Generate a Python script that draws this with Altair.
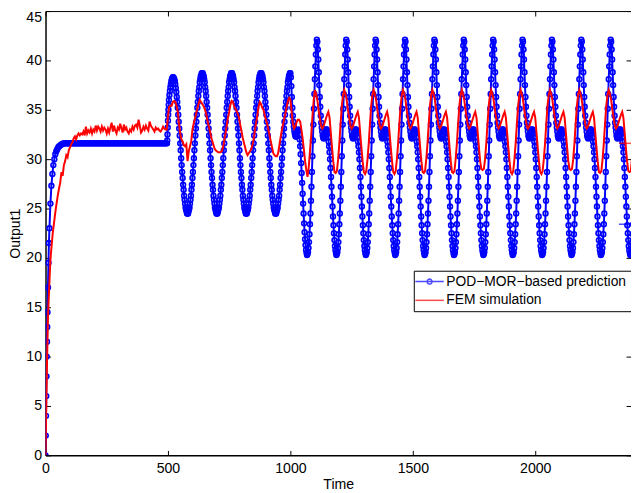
import altair as alt
import pandas as pd

# ---------------- data ----------------
POD = "POD\u2212MOR\u2212based prediction"
FEM = "FEM simulation"

x_tick_values = [0, 500, 1000, 1500, 2000]
y_tick_values = [0, 5, 10, 15, 20, 25, 30, 35, 40, 45]

# POD-MOR prediction (blue, circle markers)
pod_t_start = [0, 1, 2, 3, 4, 5, 6, 7, 8, 10, 12, 14, 16, 20, 24, 28, 32, 36, 40, 44, 48, 52, 56, 60, 64, 68]
pod_v_start = [0.0, 2.0, 4.0, 6.0, 8.0, 10.0, 11.5, 13.0, 14.5, 17.0, 19.5, 21.5, 23.0, 25.5, 27.3, 28.5,
               29.4, 30.0, 30.5, 30.8, 31.0, 31.2, 31.3, 31.4, 31.5, 31.5]
# t = 72 ... 496, step 4 (flat part)
pod_v_flat = [31.6, 31.6, 31.6, 31.6, 31.6, 31.6, 31.6, 31.6, 31.6, 31.6, 31.6, 31.6, 31.6, 31.6, 31.6, 31.6,
              31.6, 31.6, 31.6, 31.6, 31.6, 31.6, 31.6, 31.6, 31.6, 31.6, 31.6, 31.6, 31.6, 31.6, 31.6, 31.6,
              31.6, 31.6, 31.6, 31.6, 31.6, 31.6, 31.6, 31.6, 31.6, 31.6, 31.6, 31.6, 31.6, 31.6, 31.6, 31.6,
              31.6, 31.6, 31.6, 31.6, 31.6, 31.6, 31.6, 31.6, 31.6, 31.6, 31.6, 31.6, 31.6, 31.6, 31.6, 31.6,
              31.6, 31.6, 31.6, 31.6, 31.6, 31.6, 31.6, 31.6, 31.6, 31.6, 31.6, 31.6, 31.6, 31.6, 31.6, 31.6,
              31.6, 31.6, 31.6, 31.6, 31.6, 31.6, 31.6, 31.6, 31.6, 31.6, 31.6, 31.6, 31.6, 31.6, 31.6, 31.6,
              31.6, 31.6, 31.6, 31.6, 31.6, 31.6, 31.6, 31.6, 31.6, 31.6, 31.6]
pod_t_jump = [497, 498, 499, 500, 501, 502, 503]
pod_v_jump = [31.9, 32.5, 33.2, 33.9, 34.5, 35.0, 35.5]
# t = 504 ... 998, step 2
pod_v_osc1 = [
    36.0, 36.5, 36.9, 37.3, 37.6, 37.9, 38.1, 38.2, 38.3, 38.3, 38.2, 38.1, 37.9, 37.6, 37.2, 36.8, 36.3, 35.8,
    35.2, 34.5, 33.8, 33.1, 32.4, 31.6, 30.9, 30.1, 29.4, 28.7, 28.1, 27.4, 26.9, 26.3, 25.9, 25.5, 25.1, 24.9, 24.7, 24.5,
    24.5, 24.5, 24.7, 24.9, 25.1, 25.5, 25.9, 26.3, 26.9, 27.4, 28.1, 28.7, 29.4, 30.1, 30.9, 31.6, 32.4, 33.1, 33.8, 34.5,
    35.2, 35.8, 36.4, 36.9, 37.3, 37.8, 38.1, 38.4, 38.5, 38.7, 38.7, 38.7, 38.5, 38.4, 38.1, 37.8, 37.3, 36.9, 36.4, 35.8,
    35.2, 34.5, 33.8, 33.1, 32.4, 31.6, 30.9, 30.1, 29.4, 28.7, 28.1, 27.4, 26.9, 26.3, 25.9, 25.5, 25.1, 24.9, 24.7, 24.5,
    24.5, 24.5, 24.7, 24.9, 25.1, 25.5, 25.9, 26.3, 26.9, 27.4, 28.1, 28.7, 29.4, 30.1, 30.9, 31.6, 32.4, 33.1, 33.8, 34.5,
    35.2, 35.8, 36.4, 36.9, 37.3, 37.8, 38.1, 38.4, 38.5, 38.7, 38.7, 38.7, 38.5, 38.4, 38.1, 37.8, 37.3, 36.9, 36.4, 35.8,
    35.2, 34.5, 33.8, 33.1, 32.4, 31.6, 30.9, 30.1, 29.4, 28.7, 28.1, 27.4, 26.9, 26.3, 25.9, 25.5, 25.1, 24.9, 24.7, 24.5,
    24.5, 24.5, 24.7, 24.9, 25.1, 25.5, 25.9, 26.3, 26.9, 27.4, 28.1, 28.7, 29.4, 30.1, 30.9, 31.6, 32.4, 33.1, 33.8, 34.5,
    35.2, 35.8, 36.4, 36.9, 37.3, 37.8, 38.1, 38.4, 38.5, 38.7, 38.7, 38.7, 38.5, 38.4, 38.1, 37.8, 37.3, 36.9, 36.4, 35.8,
    35.2, 34.5, 33.8, 33.1, 32.4, 31.6, 30.9, 30.1, 29.4, 28.7, 28.1, 27.4, 26.9, 26.3, 25.9, 25.5, 25.1, 24.9, 24.7, 24.5,
    24.5, 24.5, 24.7, 24.9, 25.1, 25.5, 25.9, 26.3, 26.9, 27.4, 28.1, 28.7, 29.4, 30.1, 30.9, 31.6, 32.4, 33.1, 33.8, 34.5,
    35.2, 35.8, 36.4, 36.9, 37.3, 37.8, 38.1, 38.4, 38.5, 38.7]
# t = 1000 ... 1106, step 2
pod_v_trans = [38.7, 38.3, 37.4, 36.3, 35.2, 34.4, 33.8, 33.3, 32.9, 32.6, 32.4, 32.3, 32.3, 32.5, 32.7, 32.9,
               33.0, 32.9, 32.5, 32.0, 31.3, 30.5, 29.6, 28.6, 27.6, 26.5, 25.5, 24.5, 23.5, 22.6, 21.9, 21.3,
               20.8, 20.5, 20.3, 20.4, 20.6, 21.0, 21.6, 22.4, 23.4, 24.5, 25.8, 27.2, 28.7, 30.3, 31.9, 33.5,
               35.1, 36.6, 38.1, 39.4, 40.6, 41.5]
# t = 1108 ... 2400, step 2 (one row per period)
pod_v_osc2 = [
    [42.1, 41.9, 41.1, 40.1, 38.8, 37.5, 36.3, 35.3, 34.4, 33.7, 33.2, 32.8, 32.4, 32.2, 32.1, 32.2, 32.4, 32.7, 32.9, 33.0,
     33.0, 32.8, 32.6, 32.2, 31.8, 31.3, 30.7, 30.0, 29.1, 28.2, 27.2, 26.2, 25.2, 24.2, 23.3, 22.5, 21.8, 21.2, 20.8, 20.5,
     20.3, 20.4, 20.6, 21.0, 21.6, 22.4, 23.4, 24.5, 25.8, 27.2, 28.7, 30.3, 31.9, 33.5, 35.1, 36.6, 38.1, 39.4, 40.6, 41.5],
    [42.1, 41.9, 41.1, 40.1, 38.8, 37.5, 36.3, 35.3, 34.4, 33.7, 33.2, 32.8, 32.4, 32.2, 32.1, 32.2, 32.4, 32.7, 32.9, 33.0,
     33.0, 32.8, 32.6, 32.2, 31.8, 31.3, 30.7, 30.0, 29.1, 28.2, 27.2, 26.2, 25.2, 24.2, 23.3, 22.5, 21.8, 21.2, 20.8, 20.5,
     20.3, 20.4, 20.6, 21.0, 21.6, 22.4, 23.4, 24.5, 25.8, 27.2, 28.7, 30.3, 31.9, 33.5, 35.1, 36.6, 38.1, 39.4, 40.6, 41.5],
    [42.1, 41.9, 41.1, 40.1, 38.8, 37.5, 36.3, 35.3, 34.4, 33.7, 33.2, 32.8, 32.4, 32.2, 32.1, 32.2, 32.4, 32.7, 32.9, 33.0,
     33.0, 32.8, 32.6, 32.2, 31.8, 31.3, 30.7, 30.0, 29.1, 28.2, 27.2, 26.2, 25.2, 24.2, 23.3, 22.5, 21.8, 21.2, 20.8, 20.5,
     20.3, 20.4, 20.6, 21.0, 21.6, 22.4, 23.4, 24.5, 25.8, 27.2, 28.7, 30.3, 31.9, 33.5, 35.1, 36.6, 38.1, 39.4, 40.6, 41.5],
    [42.1, 41.9, 41.1, 40.1, 38.8, 37.5, 36.3, 35.3, 34.4, 33.7, 33.2, 32.8, 32.4, 32.2, 32.1, 32.2, 32.4, 32.7, 32.9, 33.0,
     33.0, 32.8, 32.6, 32.2, 31.8, 31.3, 30.7, 30.0, 29.1, 28.2, 27.2, 26.2, 25.2, 24.2, 23.3, 22.5, 21.8, 21.2, 20.8, 20.5,
     20.3, 20.4, 20.6, 21.0, 21.6, 22.4, 23.4, 24.5, 25.8, 27.2, 28.7, 30.3, 31.9, 33.5, 35.1, 36.6, 38.1, 39.4, 40.6, 41.5],
    [42.1, 41.9, 41.1, 40.1, 38.8, 37.5, 36.3, 35.3, 34.4, 33.7, 33.2, 32.8, 32.4, 32.2, 32.1, 32.2, 32.4, 32.7, 32.9, 33.0,
     33.0, 32.8, 32.6, 32.2, 31.8, 31.3, 30.7, 30.0, 29.1, 28.2, 27.2, 26.2, 25.2, 24.2, 23.3, 22.5, 21.8, 21.2, 20.8, 20.5,
     20.3, 20.4, 20.6, 21.0, 21.6, 22.4, 23.4, 24.5, 25.8, 27.2, 28.7, 30.3, 31.9, 33.5, 35.1, 36.6, 38.1, 39.4, 40.6, 41.5],
    [42.1, 41.9, 41.1, 40.1, 38.8, 37.5, 36.3, 35.3, 34.4, 33.7, 33.2, 32.8, 32.4, 32.2, 32.1, 32.2, 32.4, 32.7, 32.9, 33.0,
     33.0, 32.8, 32.6, 32.2, 31.8, 31.3, 30.7, 30.0, 29.1, 28.2, 27.2, 26.2, 25.2, 24.2, 23.3, 22.5, 21.8, 21.2, 20.8, 20.5,
     20.3, 20.4, 20.6, 21.0, 21.6, 22.4, 23.4, 24.5, 25.8, 27.2, 28.7, 30.3, 31.9, 33.5, 35.1, 36.6, 38.1, 39.4, 40.6, 41.5],
    [42.1, 41.9, 41.1, 40.1, 38.8, 37.5, 36.3, 35.3, 34.4, 33.7, 33.2, 32.8, 32.4, 32.2, 32.1, 32.2, 32.4, 32.7, 32.9, 33.0,
     33.0, 32.8, 32.6, 32.2, 31.8, 31.3, 30.7, 30.0, 29.1, 28.2, 27.2, 26.2, 25.2, 24.2, 23.3, 22.5, 21.8, 21.2, 20.8, 20.5,
     20.3, 20.4, 20.6, 21.0, 21.6, 22.4, 23.4, 24.5, 25.8, 27.2, 28.7, 30.3, 31.9, 33.5, 35.1, 36.6, 38.1, 39.4, 40.6, 41.5],
    [42.1, 41.9, 41.1, 40.1, 38.8, 37.5, 36.3, 35.3, 34.4, 33.7, 33.2, 32.8, 32.4, 32.2, 32.1, 32.2, 32.4, 32.7, 32.9, 33.0,
     33.0, 32.8, 32.6, 32.2, 31.8, 31.3, 30.7, 30.0, 29.1, 28.2, 27.2, 26.2, 25.2, 24.2, 23.3, 22.5, 21.8, 21.2, 20.8, 20.5,
     20.3, 20.4, 20.6, 21.0, 21.6, 22.4, 23.4, 24.5, 25.8, 27.2, 28.7, 30.3, 31.9, 33.5, 35.1, 36.6, 38.1, 39.4, 40.6, 41.5],
    [42.1, 41.9, 41.1, 40.1, 38.8, 37.5, 36.3, 35.3, 34.4, 33.7, 33.2, 32.8, 32.4, 32.2, 32.1, 32.2, 32.4, 32.7, 32.9, 33.0,
     33.0, 32.8, 32.6, 32.2, 31.8, 31.3, 30.7, 30.0, 29.1, 28.2, 27.2, 26.2, 25.2, 24.2, 23.3, 22.5, 21.8, 21.2, 20.8, 20.5,
     20.3, 20.4, 20.6, 21.0, 21.6, 22.4, 23.4, 24.5, 25.8, 27.2, 28.7, 30.3, 31.9, 33.5, 35.1, 36.6, 38.1, 39.4, 40.6, 41.5],
    [42.1, 41.9, 41.1, 40.1, 38.8, 37.5, 36.3, 35.3, 34.4, 33.7, 33.2, 32.8, 32.4, 32.2, 32.1, 32.2, 32.4, 32.7, 32.9, 33.0,
     33.0, 32.8, 32.6, 32.2, 31.8, 31.3, 30.7, 30.0, 29.1, 28.2, 27.2, 26.2, 25.2, 24.2, 23.3, 22.5, 21.8, 21.2, 20.8, 20.5,
     20.3, 20.4, 20.6, 21.0, 21.6, 22.4, 23.4, 24.5, 25.8, 27.2, 28.7, 30.3, 31.9, 33.5, 35.1, 36.6, 38.1, 39.4, 40.6, 41.5],
    [42.1, 41.9, 41.1, 40.1, 38.8, 37.5, 36.3, 35.3, 34.4, 33.7, 33.2, 32.8, 32.4, 32.2, 32.1, 32.2, 32.4, 32.7, 32.9, 33.0,
     33.0, 32.8, 32.6, 32.2, 31.8, 31.3, 30.7, 30.0, 29.1, 28.2, 27.2, 26.2, 25.2, 24.2, 23.3, 22.5, 21.8, 21.2, 20.8, 20.5,
     20.3, 20.4, 20.6, 21.0, 21.6, 22.4, 23.4],
]

# FEM simulation (red line), t = 0 ... 2400, step 5
fem_v_start = [0.0, 8.0, 14.0, 17.0, 19.8, 21.3, 22.6, 23.6, 24.6, 25.5, 26.3, 27.0, 27.6, 28.7, 28.3, 29.4,
               29.8, 30.4, 30.2, 30.9]
fem_v_noise = [31.2, 31.5, 31.7, 32.1, 32.3, 32.0, 32.4, 32.6, 32.4, 32.6, 32.5, 32.8, 32.4, 33.3, 32.6, 32.9,
               32.7, 33.1, 32.6, 33.0, 32.8, 33.4, 32.9, 33.3, 33.1, 32.8, 33.3, 32.9, 33.2, 33.0, 32.6, 33.1,
               32.7, 33.2, 33.7, 32.8, 33.4, 32.9, 32.6, 33.2, 33.0, 33.6, 33.1, 32.7, 33.5, 33.0, 33.2, 32.8,
               32.6, 33.0, 32.8, 33.3, 33.0, 33.4, 33.5, 33.2, 34.0, 33.4, 32.7, 32.9, 33.3, 33.0, 33.4, 33.1,
               32.9, 33.8, 33.4, 33.2, 33.0, 32.8, 33.2, 33.0, 33.1, 32.9, 32.8, 33.0, 33.3, 33.1, 33.0, 33.0]
fem_v_osc1 = [34.3, 35.3, 35.4, 35.4, 35.8, 35.9, 35.8, 35.4, 34.8, 33.6, 32.6, 32.0, 31.8, 31.4, 31.3, 31.5,
              29.8, 30.8, 31.3, 31.8, 33.0, 33.6, 34.1, 34.6, 35.1, 35.6, 36.0, 35.8, 35.6, 35.4, 35.1, 34.7,
              34.1, 33.5, 33.0, 32.4, 31.9, 31.5, 31.1, 30.9, 30.8, 30.7, 30.7, 30.7, 30.8, 31.2, 31.9, 32.6,
              33.4, 34.2, 34.8, 35.5, 35.9, 35.8, 35.4, 35.1, 34.9, 34.6, 34.2, 33.5, 32.9, 32.2, 31.7, 31.2,
              30.7, 30.4, 30.6, 30.8, 31.0, 31.4, 32.0, 32.9, 33.7, 34.4, 35.3, 35.8, 35.6, 35.2, 35.0, 34.5,
              34.0, 33.6, 33.0, 32.4, 31.8, 31.2, 30.6, 30.4, 30.3, 30.3, 30.6, 31.4, 32.2, 32.9, 33.5, 34.1,
              34.7, 35.3, 35.9, 36.2]
fem_v_trans = [36.0, 34.8, 33.6, 33.1, 33.3, 33.7, 34.0, 34.0, 33.8, 33.0, 32.1, 31.0, 29.8, 28.9, 28.2, 29.2,
               30.8, 32.4, 34.3, 35.9]
fem_v_osc2 = [
    [37.0, 36.6, 36.0, 35.0, 34.2, 33.4, 33.1, 33.3, 33.7, 34.1, 34.5, 34.8, 34.2, 32.7, 31.2, 29.8, 28.7, 28.6, 28.8, 30.0, 31.6, 33.6, 35.4, 36.5],
    [37.0, 36.6, 36.0, 35.0, 34.2, 33.4, 33.1, 33.3, 33.7, 34.1, 34.5, 34.8, 34.2, 32.7, 31.2, 29.8, 28.7, 28.5, 28.8, 30.0, 31.6, 33.6, 35.4, 36.5],
    [37.0, 36.6, 36.0, 35.0, 34.2, 33.4, 33.1, 33.3, 33.7, 34.1, 34.5, 34.8, 34.2, 32.7, 31.2, 29.8, 28.7, 28.5, 28.8, 30.0, 31.6, 33.6, 35.4, 36.5],
    [37.0, 36.6, 36.0, 35.0, 34.2, 33.4, 33.1, 33.3, 33.7, 34.1, 34.5, 34.8, 34.2, 32.7, 31.2, 29.8, 28.7, 28.6, 28.8, 30.0, 31.6, 33.6, 35.4, 36.5],
    [37.0, 36.6, 36.0, 35.0, 34.2, 33.4, 33.1, 33.3, 33.7, 34.1, 34.5, 34.8, 34.2, 32.7, 31.2, 29.8, 28.7, 28.6, 28.8, 30.0, 31.6, 33.6, 35.4, 36.5],
    [37.0, 36.6, 36.0, 35.0, 34.2, 33.4, 33.1, 33.3, 33.7, 34.1, 34.5, 34.8, 34.2, 32.7, 31.2, 29.8, 29.0, 28.9, 29.0, 30.0, 31.6, 33.6, 35.4, 36.5],
    [37.0, 36.6, 36.0, 35.0, 34.2, 33.4, 33.1, 33.3, 33.7, 34.1, 34.5, 34.8, 34.2, 32.7, 31.2, 29.8, 28.7, 28.5, 28.8, 30.0, 31.6, 33.6, 35.4, 36.5],
    [37.0, 36.6, 36.0, 35.0, 34.2, 33.4, 33.1, 33.3, 33.7, 34.1, 34.5, 34.8, 34.2, 32.7, 31.2, 29.8, 28.7, 28.5, 28.8, 30.0, 31.6, 33.6, 35.4, 36.5],
    [37.0, 36.6, 36.0, 35.0, 34.2, 33.4, 33.1, 33.3, 33.7, 34.1, 34.5, 34.8, 34.2, 32.7, 31.2, 29.8, 29.0, 28.9, 29.0, 30.0, 31.6, 33.6, 35.4, 36.5],
    [37.0, 36.6, 36.0, 35.0, 34.2, 33.4, 33.1, 33.3, 33.7, 34.1, 34.5, 34.8, 34.2, 32.7, 31.2, 29.8, 28.7, 28.6, 28.8, 30.0, 31.6, 33.6, 35.4, 36.5],
    [37.0, 36.6, 36.0, 35.0, 34.2, 33.4, 33.1, 33.3, 33.7, 34.1, 34.5, 34.8, 34.2, 32.7, 31.2, 29.8, 28.8, 28.7, 28.8, 30.0, 31.6],
]

# ---------------- assemble tables ----------------
pod_t = pod_t_start + list(range(72, 497, 4)) + pod_t_jump + list(range(504, 2401, 2))
pod_v = pod_v_start + pod_v_flat + pod_v_jump + pod_v_osc1 + pod_v_trans + [v for row in pod_v_osc2 for v in row]
assert len(pod_t) == len(pod_v), (len(pod_t), len(pod_v), len(pod_v_osc1), len(pod_v_trans))

fem_t = list(range(0, 2401, 5))
fem_v = fem_v_start + fem_v_noise + fem_v_osc1 + fem_v_trans + [v for row in fem_v_osc2 for v in row]
assert len(fem_t) == len(fem_v), (len(fem_t), len(fem_v))

pod_df = pd.DataFrame({"Time": pod_t, "Output1": pod_v, "series": POD})
fem_df = pd.DataFrame({"Time": fem_t, "Output1": fem_v, "series": FEM})
key_df = pd.concat([pod_df.tail(1), fem_df.tail(1)], ignore_index=True)

# ---------------- styling ----------------
FONT = "Liberation Sans"
FS = 14.3
W, H = 593, 450
BLUE, RED = "#0000ff", "#ff0000"

xs = alt.Scale(domain=[0, 2391], nice=False, zero=False)
ys = alt.Scale(domain=[0, 45], nice=False, zero=False)

POD_SHAPE = ("M-2.4,0L2.4,0M0.42,0L0.36,0.21L0.21,0.36L0,0.42L-0.21,0.36L-0.36,0.21L-0.42,0"
             "L-0.36,-0.21L-0.21,-0.36L0,-0.42L0.21,-0.36L0.36,-0.21Z")
FEM_SHAPE = "M-2.4,0L2.4,0"

common = dict(grid=False, tickColor="black", tickWidth=1, domainColor="black")

x_main = alt.Axis(orient="bottom", values=x_tick_values, format="d", title="Time", ticks=False, tickSize=0,
                  labelPadding=6, labelFlush=False, labelFont=FONT, labelFontSize=FS, labelColor="black",
                  titleFont=FONT, titleFontSize=FS, titleFontWeight="normal", titleColor="black",
                  titlePadding=2, domainWidth=1.5, **common)
y_main = alt.Axis(orient="left", values=y_tick_values, format="d", title="Output1", ticks=False, tickSize=0,
                  labelPadding=4, labelFlush=False, labelFont=FONT, labelFontSize=FS, labelColor="black",
                  labelBaseline={"condition": {"test": "datum.value == 45", "value": "top"}, "value": "middle"},
                  titleFont=FONT, titleFontSize=FS, titleFontWeight="normal", titleColor="black",
                  titlePadding=3, domainWidth=1.5, **common)
# inward tick marks (axes moved across the plot with negative offsets)
x_bottom_ticks = alt.Axis(orient="top", offset=-H, values=x_tick_values, labels=False, domain=False,
                          tickSize=5, title=None, **common)
y_left_ticks = alt.Axis(orient="right", offset=-W, values=y_tick_values, labels=False, domain=False,
                        tickSize=5, title=None, **common)
x_top_frame = alt.Axis(orient="bottom", offset=-H, values=x_tick_values, labels=False, domain=True,
                       domainWidth=1, tickSize=5, title=None, **common)
y_right_ticks = alt.Axis(orient="left", offset=-W, values=y_tick_values, labels=False, domain=False,
                         tickSize=5, title=None, **common)

legend = alt.Legend(title=None, orient="none", legendX=373, legendY=263, direction="vertical",
                    fillColor="white", strokeColor="black", padding=4, cornerRadius=0,
                    symbolSize=144, symbolStrokeWidth=1.5, symbolOffset=5, labelOffset=10,
                    rowPadding=5, labelFont=FONT, labelFontSize=14, labelColor="black",
                    labelLimit=400, symbolFillColor="transparent")

pod_line = alt.Chart(pod_df).mark_line(color=BLUE, strokeWidth=2, clip=True).encode(
    x=alt.X("Time:Q", scale=xs, axis=x_main),
    y=alt.Y("Output1:Q", scale=ys, axis=y_main),
    order="Time:Q",
)
pod_pts = alt.Chart(pod_df).mark_point(shape="circle", filled=False, size=24, strokeWidth=1.6,
                                       color=BLUE, opacity=1, clip=True).encode(
    x=alt.X("Time:Q", scale=xs, axis=x_bottom_ticks),
    y=alt.Y("Output1:Q", scale=ys, axis=y_left_ticks),
)
fem_line = alt.Chart(fem_df).mark_line(color=RED, strokeWidth=2, clip=True).encode(
    x=alt.X("Time:Q", scale=xs, axis=x_top_frame),
    y=alt.Y("Output1:Q", scale=ys, axis=y_right_ticks),
    order="Time:Q",
)
key = alt.Chart(key_df).mark_point(filled=False, size=144, strokeWidth=1.5, clip=True).encode(
    x=alt.X("Time:Q", scale=xs, axis=None),
    y=alt.Y("Output1:Q", scale=ys, axis=None),
    color=alt.Color("series:N", scale=alt.Scale(domain=[POD, FEM], range=[BLUE, RED]), legend=legend),
    shape=alt.Shape("series:N", scale=alt.Scale(domain=[POD, FEM], range=[POD_SHAPE, FEM_SHAPE]), legend=legend),
)

chart = alt.layer(pod_line, pod_pts, fem_line, key).resolve_axis(
    x="independent", y="independent"
).properties(
    width=W, height=H,
    padding={"left": 38, "top": 0, "right": 0, "bottom": 33},
    autosize=alt.AutoSizeParams(type="none"),
    background="white",
).configure_view(stroke=None)

chart.save("out.html", embed_options={"renderer": "svg", "actions": False})
